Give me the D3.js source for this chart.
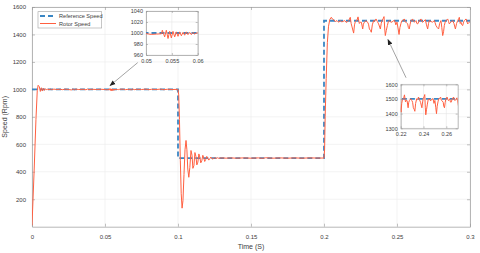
<!DOCTYPE html>
<meta charset="utf-8">
<script src="https://d3js.org/d3.v7.min.js"></script>
<style>
  body { margin: 0; background: #fff; }
  text { font-family: "Liberation Sans", Arial, sans-serif; fill: #404040; }
</style>
<div id="chart"></div>
<script>

// reference speed command (step profile)
var refTime  = [0, 0.1, 0.1, 0.2, 0.2, 0.3];
var refSpeed = [1000, 1000, 500, 500, 1500, 1500];

var rotorTime = [
  0, 0.0015, 0.0027, 0.0036, 0.0042, 0.0050, 0.0057, 0.0064, 0.0071, 0.0078, 0.0085, 0.0092,
  0.0100, 0.0108, 0.0116, 0.0125, 0.0135, 0.015, 0.017, 0.019, 0.021, 0.023, 0.025, 0.027,
  0.028, 0.029, 0.030, 0.032, 0.035, 0.037, 0.038, 0.039, 0.041, 0.044, 0.047, 0.0500,
  0.0505, 0.051, 0.052, 0.053, 0.05316, 0.05361, 0.05393, 0.05426, 0.05458, 0.05490, 0.05522,
  0.05555, 0.05587, 0.05619, 0.05651, 0.05684, 0.05716, 0.05748, 0.05780, 0.05812, 0.05845,
  0.05877, 0.05909, 0.05942, 0.05974, 0.062, 0.064, 0.066, 0.068, 0.069, 0.070, 0.072, 0.075,
  0.078, 0.080, 0.082, 0.085, 0.088, 0.090, 0.093, 0.096, 0.0995,
  0.1, 0.1005, 0.101, 0.1016, 0.1022, 0.1028, 0.1034, 0.1041, 0.1048, 0.1055, 0.1061, 0.1067,
  0.1074, 0.1081, 0.1089, 0.1096, 0.1102, 0.1109, 0.1116, 0.1123, 0.1129, 0.1136, 0.1143,
  0.1150, 0.1156, 0.1163, 0.1170, 0.1177, 0.1183, 0.1190, 0.1197, 0.1204, 0.1211, 0.1218,
  0.1225, 0.1232, 0.124, 0.125, 0.126, 0.127, 0.128, 0.130, 0.133, 0.136, 0.140, 0.145,
  0.150, 0.155, 0.158, 0.160, 0.165, 0.170, 0.175, 0.180, 0.185, 0.190, 0.195, 0.1995,
  0.2, 0.2004, 0.2008, 0.2015, 0.2023, 0.2031, 0.2040, 0.2050, 0.2058, 0.2066, 0.2078, 0.2089,
  0.2100, 0.2112, 0.2120, 0.2128, 0.2142, 0.2150, 0.2158, 0.2169, 0.2180, 0.2186, 0.2192,
  0.2203, 0.2209, 0.2215, 0.2226, 0.2233, 0.2242, 0.2249, 0.2256, 0.2265, 0.2270, 0.2276,
  0.2288, 0.2294, 0.2299, 0.2305, 0.2311, 0.2318, 0.2324, 0.2331, 0.2340, 0.2348, 0.2356,
  0.2365, 0.2374, 0.2386, 0.2392, 0.2397, 0.2405, 0.2411, 0.2416, 0.2420, 0.2427, 0.2434,
  0.2441, 0.2447, 0.2456, 0.2466, 0.2475, 0.2484, 0.2492, 0.2500, 0.2508, 0.2514, 0.2520,
  0.2527, 0.2533, 0.2539, 0.2550, 0.2556, 0.2562, 0.2573, 0.2578, 0.2584, 0.2590, 0.2596,
  0.2607, 0.2613, 0.2619, 0.2630, 0.2636, 0.2642, 0.2653, 0.2664, 0.2670, 0.2676, 0.2685,
  0.2694, 0.2702, 0.2710, 0.2716, 0.2721, 0.2732, 0.2744, 0.2755, 0.2761, 0.2767, 0.2776,
  0.2785, 0.2792, 0.2801, 0.2807, 0.2813, 0.2819, 0.2824, 0.2830, 0.2836, 0.2847, 0.2853,
  0.2858, 0.2864, 0.2870, 0.2881, 0.2890, 0.2900, 0.2908, 0.2916, 0.2922, 0.2927, 0.2933,
  0.2938, 0.2944, 0.2950, 0.2956, 0.2961, 0.2973, 0.2979, 0.2984, 0.2990, 0.2995, 0.3
];
var rotorSpeed = [
  10, 420, 780, 990, 1030, 1020, 985, 1012, 988, 1008, 993, 1005,
  995, 1004, 997, 1003, 998, 1002, 999, 1001, 998, 1002, 999, 996,
  1003, 997, 1002, 999, 1001, 997, 1003, 998, 1001, 999, 1001, 999,
  998, 997.5, 998, 998.5, 1005, 993, 1005, 990, 1003, 991, 1003,
  993, 1002, 994, 1002, 995, 1001, 996, 1002, 997, 1001,
  997, 1001, 998, 1000, 1002, 998, 1001, 997, 1003, 998, 1001, 999,
  1002, 998, 1001, 999, 1002, 998, 1001, 999, 1000,
  1000, 960, 780, 480, 240, 135, 190, 380, 560, 628, 560, 420,
  360, 430, 555, 520, 425, 445, 540, 510, 450, 470, 530,
  505, 465, 480, 520, 500, 475, 490, 512, 498, 485, 495,
  507, 497, 492, 503, 497, 502, 498, 501, 499, 501, 499, 501,
  499, 501, 498, 502, 499, 501, 499, 501, 499, 501, 500, 500,
  500, 560, 800, 1080, 1340, 1460, 1510, 1525, 1512, 1508, 1494, 1501,
  1489, 1501, 1492, 1494, 1501, 1490, 1489, 1501, 1525, 1480, 1455,
  1410, 1470, 1495, 1505, 1528, 1480, 1490, 1489, 1440, 1475, 1489,
  1501, 1492, 1489, 1475, 1440, 1430, 1416, 1470, 1501, 1495, 1513,
  1495, 1477, 1440, 1480, 1501, 1515, 1530, 1440, 1392, 1430, 1465,
  1495, 1501, 1492, 1489, 1500, 1501, 1470, 1490, 1440, 1400, 1450,
  1480, 1500, 1501, 1513, 1492, 1489, 1477, 1450, 1440, 1475, 1501,
  1513, 1495, 1489, 1501, 1480, 1477, 1501, 1513, 1495, 1489, 1498,
  1508, 1470, 1440, 1480, 1501, 1495, 1489, 1501, 1485, 1465, 1450,
  1440, 1480, 1501, 1450, 1392, 1420, 1465, 1490, 1501, 1513, 1495,
  1477, 1485, 1489, 1501, 1480, 1440, 1480, 1501, 1515, 1525, 1480,
  1489, 1470, 1465, 1490, 1501, 1513, 1495, 1477, 1485, 1489, 1490
];

var xTicks = [0, 0.05, 0.1, 0.15, 0.2, 0.25, 0.3];
var yTicks = [200, 400, 600, 800, 1000, 1200, 1400, 1600];

var inset1XTicks = [0.05, 0.055, 0.06];
var inset1YTicks = [960, 980, 1000, 1020, 1040];
var inset2XTicks = [0.22, 0.24, 0.26];
var inset2YTicks = [1300, 1400, 1500, 1600];

var refData = refTime.map(function(t, i) { return {t: t, v: refSpeed[i]}; });
var rotorData = rotorTime.map(function(t, i) { return {t: t, v: rotorSpeed[i]}; });

var width = 480, height = 253;
var margin = {top: 7, right: 10, bottom: 26.3, left: 32};

var svg = d3.select("#chart").append("svg")
    .attr("width", width)
    .attr("height", height);

var defs = svg.append("defs");
defs.append("marker")
    .attr("id", "arrow")
    .attr("viewBox", "0 0 10 10")
    .attr("refX", 9).attr("refY", 5)
    .attr("markerWidth", 6).attr("markerHeight", 6)
    .attr("markerUnits", "userSpaceOnUse")
    .attr("orient", "auto")
  .append("path")
    .attr("d", "M0,1 L10,5 L0,9 z")
    .attr("fill", "#222");

var refColor = "#3a86c4", rotorColor = "#ff5f40", boxColor = "#999";

var x = d3.scaleLinear().domain([0, 0.3]).range([margin.left, width - margin.right]);
var y = d3.scaleLinear().domain([0, 1600]).range([height - margin.bottom, margin.top]);

// draws one set of axes (used for the main plot and both insets)
function drawAxes(g, xs, ys, xt, yt, opt) {
  var x0 = xs.range()[0], x1 = xs.range()[1];
  var y0 = ys.range()[0], y1 = ys.range()[1];

  g.append("rect")
      .attr("x", x0).attr("y", y1)
      .attr("width", x1 - x0).attr("height", y0 - y1)
      .attr("fill", "#fff");

  // grid
  g.append("g").selectAll("line").data(xt).enter().append("line")
      .attr("x1", function(d) { return xs(d); }).attr("x2", function(d) { return xs(d); })
      .attr("y1", y0).attr("y2", y1)
      .attr("stroke", opt.grid).attr("stroke-width", 0.6);
  g.append("g").selectAll("line").data(yt).enter().append("line")
      .attr("y1", function(d) { return ys(d); }).attr("y2", function(d) { return ys(d); })
      .attr("x1", x0).attr("x2", x1)
      .attr("stroke", opt.grid).attr("stroke-width", 0.6);

  var axes = [
    {ax: d3.axisBottom(xs).tickValues(xt), tr: [0, y0], lab: true},
    {ax: d3.axisTop(xs).tickValues(xt), tr: [0, y1], lab: false},
    {ax: d3.axisLeft(ys).tickValues(yt), tr: [x0, 0], lab: true},
    {ax: d3.axisRight(ys).tickValues(yt), tr: [x1, 0], lab: false}
  ];
  axes.forEach(function(a, i) {
    var isX = i < 2;
    a.ax.tickSizeInner(-opt.tick).tickSizeOuter(0)
        .tickPadding(isX ? opt.padX : opt.padY)
        .tickFormat(a.lab ? (isX ? opt.fmtX : d3.format("d")) : "");
    var ag = g.append("g")
        .attr("transform", "translate(" + a.tr[0] + "," + a.tr[1] + ")")
        .call(a.ax);
    ag.select(".domain").attr("stroke", boxColor).attr("stroke-width", 0.7);
    ag.selectAll(".tick line").attr("stroke", boxColor).attr("stroke-width", 0.6);
    ag.selectAll("text")
        .attr("font-size", opt.font)
        .attr("font-family", "Liberation Sans, Arial, sans-serif")
        .attr("fill", "#404040");
  });
}

function drawSeries(g, xs, ys, clipId) {
  var x0 = xs.range()[0], x1 = xs.range()[1];
  var y0 = ys.range()[0], y1 = ys.range()[1];
  defs.append("clipPath").attr("id", clipId)
    .append("rect").attr("x", x0).attr("y", y1)
    .attr("width", x1 - x0).attr("height", y0 - y1);

  var line = d3.line()
      .x(function(d) { return xs(d.t); })
      .y(function(d) { return ys(d.v); });

  var s = g.append("g").attr("clip-path", "url(#" + clipId + ")");
  s.append("path").datum(refData)
      .attr("d", line)
      .attr("fill", "none")
      .attr("stroke", refColor)
      .attr("stroke-width", 1.8)
      .attr("stroke-dasharray", "5,3");
  s.append("path").datum(rotorData)
      .attr("d", line)
      .attr("fill", "none")
      .attr("stroke", rotorColor)
      .attr("stroke-width", 1)
      .attr("stroke-linejoin", "round");
}

// main axes
var main = svg.append("g");
drawAxes(main, x, y, xTicks, yTicks, {
  grid: "#ebebeb", tick: 3, padX: 8, padY: 6, font: 6,
  fmtX: function(d) { return d3.format("")(d); }
});
drawSeries(main, x, y, "clipMain");

// axis titles
svg.append("text")
    .attr("x", (x.range()[0] + x.range()[1]) / 2)
    .attr("y", 248.5)
    .attr("text-anchor", "middle")
    .attr("font-size", 7)
    .text("Time (S)");
svg.append("text")
    .attr("transform", "translate(7," + ((y.range()[0] + y.range()[1]) / 2) + ") rotate(-90)")
    .attr("text-anchor", "middle")
    .attr("font-size", 7)
    .text("Speed (Rpm)");

// legend
var leg = svg.append("g");
leg.append("rect")
    .attr("x", 38).attr("y", 11.7).attr("width", 63.7).attr("height", 16.3)
    .attr("fill", "#fff").attr("stroke", "#a0a0a0").attr("stroke-width", 0.6);
leg.append("line")
    .attr("x1", 40).attr("x2", 56).attr("y1", 16).attr("y2", 16)
    .attr("stroke", refColor).attr("stroke-width", 1.8).attr("stroke-dasharray", "5,3");
leg.append("line")
    .attr("x1", 40).attr("x2", 56).attr("y1", 23.5).attr("y2", 23.5)
    .attr("stroke", rotorColor).attr("stroke-width", 1);
leg.append("text").attr("x", 59).attr("y", 18).attr("font-size", 5.6).text("Reference Speed");
leg.append("text").attr("x", 59).attr("y", 25.5).attr("font-size", 5.6).text("Rotor Speed");

// zoom pointers
function arrow(t0, v0, t1, v1) {
  svg.append("line")
      .attr("x1", x(t0)).attr("y1", y(v0))
      .attr("x2", x(t1)).attr("y2", y(v1))
      .attr("stroke", "#666").attr("stroke-width", 0.6)
      .attr("marker-end", "url(#arrow)");
}
arrow(0.0724, 1195, 0.0534, 1027);
arrow(0.2562, 1085, 0.2438, 1363);

// inset 1 : 0.05 - 0.06 s
var i1x = d3.scaleLinear().domain([0.05, 0.06]).range([146, 197.7]);
var i1y = d3.scaleLinear().domain([960, 1040]).range([55, 11]);
var inset1 = svg.append("g");
drawAxes(inset1, i1x, i1y, inset1XTicks, inset1YTicks, {
  grid: "#e6e6e6", tick: 2, padX: 4, padY: 3, font: 5.5,
  fmtX: function(d) { return d3.format("")(d); }
});
drawSeries(inset1, i1x, i1y, "clipI1");

// inset 2 : 0.22 - 0.27 s
var i2x = d3.scaleLinear().domain([0.22, 0.27]).range([400.7, 457.7]);
var i2y = d3.scaleLinear().domain([1300, 1600]).range([128.3, 84.3]);
var inset2 = svg.append("g");
drawAxes(inset2, i2x, i2y, inset2XTicks, inset2YTicks, {
  grid: "#e6e6e6", tick: 2, padX: 4, padY: 3, font: 5.5,
  fmtX: function(d) { return d3.format("")(d); }
});
drawSeries(inset2, i2x, i2y, "clipI2");

</script>
